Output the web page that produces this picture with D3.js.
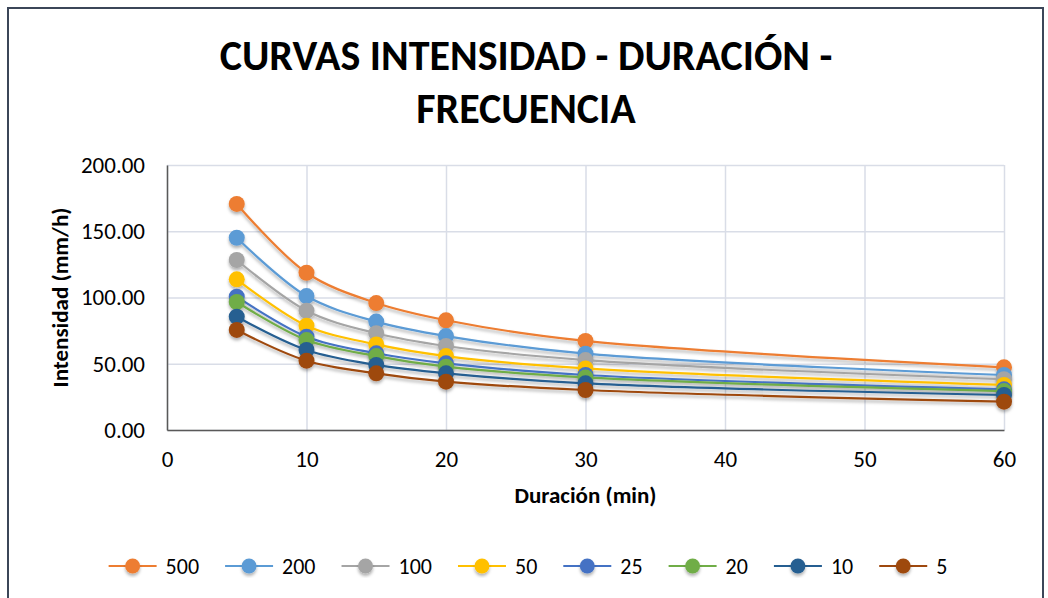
<!DOCTYPE html>
<html>
<head>
<meta charset="utf-8">
<script src="https://cdn.jsdelivr.net/npm/d3@7"></script>
<style>
  body { margin: 0; background: #fff; }
  text { font-family: Carlito, Calibri, Lato, "Open Sans", sans-serif; fill: #000; }
</style>
</head>
<body>
<svg id="svg"></svg>
<script>
  // duraciones (min) y periodos de retorno
  const durations = [5, 10, 15, 20, 30, 60];
  const periods = ["500", "200", "100", "50", "25", "20", "10", "5"];
  const colors = ["#ED7D31", "#5B9BD5", "#A5A5A5", "#FFC000", "#4472C4", "#70AD47", "#255E91", "#9E480E"];

  // intensidades (mm/h)
  const i500 = [170.6, 118.7, 95.8, 82.8, 67.2, 47.3];
  const i200 = [145.1, 101.1, 81.8, 70.9, 57.6, 41.5];
  const i100 = [128.3, 90.0, 73.0, 63.4, 52.8, 38.3];
  const i50  = [113.7, 78.7, 64.6, 55.8, 46.5, 34.0];
  const i25  = [100.6, 70.4, 57.9, 50.3, 41.5, 30.7];
  const i20  = [96.6, 67.9, 55.8, 47.8, 39.7, 29.4];
  const i10  = [85.5, 60.4, 49.1, 42.8, 35.2, 26.4];
  const i5   = [75.5, 52.3, 42.8, 36.5, 30.2, 21.4];

  const xTicks = [0, 10, 20, 30, 40, 50, 60];
  const yTicks = [0, 50, 100, 150, 200];

  const series = [i500, i200, i100, i50, i25, i20, i10, i5].map((vals, k) => ({
    name: periods[k],
    color: colors[k],
    values: vals.map((v, j) => ({ d: durations[j], v: v }))
  }));

  const W = 1048, H = 598;
  const marginLeft = 167;
  const marginTop = 165;
  const width = 1004 - marginLeft;
  const height = 430 - marginTop;

  const svg = d3.select("#svg")
      .attr("width", W)
      .attr("height", H);

  const defs = svg.append("defs");
  const f = defs.append("filter").attr("id", "shadow")
      .attr("x", "-30%").attr("y", "-30%").attr("width", "160%").attr("height", "160%");
  f.append("feDropShadow")
      .attr("dx", 0).attr("dy", 2.5).attr("stdDeviation", 1.6)
      .attr("flood-color", "#000").attr("flood-opacity", 0.3);

  // marco exterior
  svg.append("rect")
      .attr("x", 8).attr("y", 8)
      .attr("width", 1035).attr("height", 600)
      .attr("fill", "#fff")
      .attr("stroke", "#3B4658")
      .attr("stroke-width", 2);

  // titulo
  const title = svg.append("text")
      .attr("text-anchor", "middle")
      .attr("font-weight", "bold")
      .attr("font-size", 42);
  title.append("tspan").attr("x", 526).attr("y", 70).text("CURVAS INTENSIDAD - DURACIÓN -");
  title.append("tspan").attr("x", 526).attr("y", 123).text("FRECUENCIA");

  const xScale = d3.scaleLinear().domain([0, 60]).range([0, width]);
  const yScale = d3.scaleLinear().domain([0, 200]).range([height, 0]);

  const chart = svg.append("g")
      .attr("transform", `translate(${marginLeft}, ${marginTop})`);

  // rejilla
  chart.append("g")
      .call(d3.axisLeft(yScale).tickValues(yTicks).tickSize(-width).tickFormat(""))
      .call(g => g.select(".domain").remove())
      .selectAll("line").attr("stroke", "#D9DDE7").attr("stroke-width", 1.5);

  chart.append("g")
      .attr("transform", `translate(0, ${height})`)
      .call(d3.axisBottom(xScale).tickValues(xTicks).tickSize(-height).tickFormat(""))
      .call(g => g.select(".domain").remove())
      .selectAll("line").attr("stroke", "#D9DDE7").attr("stroke-width", 1.5);

  // ejes
  chart.append("g")
      .call(d3.axisLeft(yScale).tickValues(yTicks).tickSize(0).tickPadding(22).tickFormat(d3.format(".2f")))
      .call(g => g.select(".domain").attr("stroke", "#595959").attr("stroke-width", 1.5))
      .selectAll("text")
      .attr("font-size", 23)
      .attr("font-family", "Carlito, Calibri, Lato, sans-serif")
      .attr("fill", "#000");

  chart.append("g")
      .attr("transform", `translate(0, ${height})`)
      .call(d3.axisBottom(xScale).tickValues(xTicks).tickSize(0).tickPadding(21))
      .call(g => g.select(".domain").attr("stroke", "#595959").attr("stroke-width", 1.5))
      .selectAll("text")
      .attr("font-size", 23)
      .attr("font-family", "Carlito, Calibri, Lato, sans-serif")
      .attr("fill", "#000");

  // titulos de ejes
  svg.append("text")
      .attr("text-anchor", "middle")
      .attr("font-weight", "bold")
      .attr("font-size", 23)
      .attr("x", marginLeft + width / 2)
      .attr("y", 503)
      .text("Duración (min)");

  svg.append("text")
      .attr("text-anchor", "middle")
      .attr("font-weight", "bold")
      .attr("font-size", 23)
      .attr("transform", `translate(68, ${marginTop + height / 2}) rotate(-90)`)
      .text("Intensidad (mm/h)");

  // curvas
  const line = d3.line()
      .x(function(d) { return xScale(d.d) })
      .y(function(d) { return yScale(d.v) })
      .curve(d3.curveCatmullRom);

  series.forEach(function(s) {
    const g = chart.append("g").attr("filter", "url(#shadow)");
    g.append("path")
        .datum(s.values)
        .attr("fill", "none")
        .attr("stroke", s.color)
        .attr("stroke-width", 2.2)
        .attr("d", line);
    g.selectAll("circle")
        .data(s.values)
        .enter().append("circle")
        .attr("cx", function(d) { return xScale(d.d) })
        .attr("cy", function(d) { return yScale(d.v) })
        .attr("r", 8)
        .attr("fill", s.color);
  });

  // leyenda
  const legend = svg.append("g").attr("transform", "translate(0, 566)");
  const items = legend.selectAll("g")
      .data(series)
      .enter().append("g");

  items.append("line")
      .attr("x1", 0).attr("x2", 48)
      .attr("stroke", function(d) { return d.color })
      .attr("stroke-width", 2.2);
  items.append("circle")
      .attr("cx", 24).attr("r", 7.5)
      .attr("fill", function(d) { return d.color })
      .attr("filter", "url(#shadow)");
  items.append("text")
      .attr("x", 57)
      .attr("dy", "0.35em")
      .attr("font-size", 22)
      .text(function(d) { return d.name });

  let pos = 0;
  const offsets = [];
  items.each(function() {
    const tw = d3.select(this).select("text").node().getComputedTextLength();
    offsets.push(pos);
    pos += 57 + tw + 26;
  });
  const total = pos - 26;
  const start = 528 - total / 2;
  items.attr("transform", function(d, i) { return `translate(${start + offsets[i]}, 0)` });
</script>
</body>
</html>
